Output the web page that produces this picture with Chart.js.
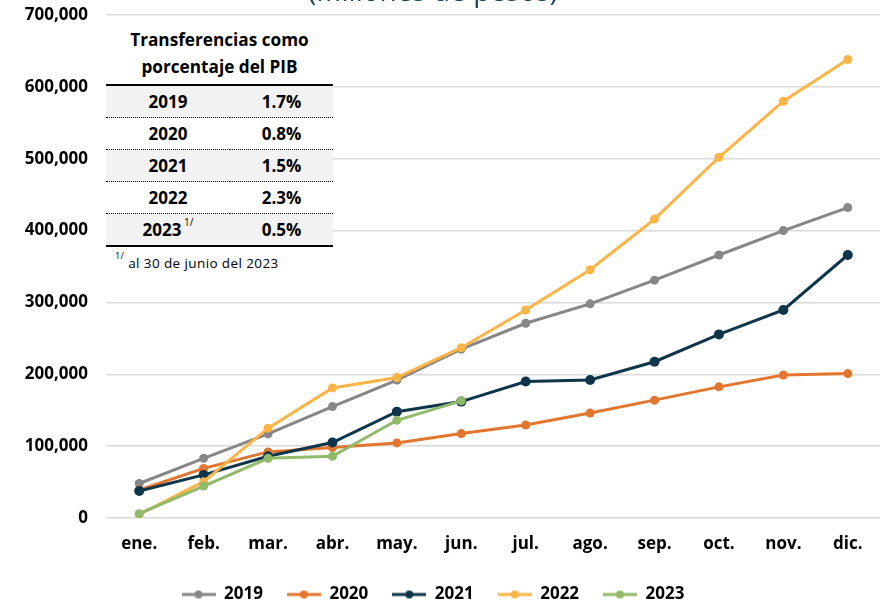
<!DOCTYPE html>
<html>
<head>
<meta charset="utf-8">
<script src="https://cdn.jsdelivr.net/npm/chart.js@4/dist/chart.umd.min.js"></script>
<style>
  html, body { margin: 0; padding: 0; background: #fff; }
  #wrap { position: relative; width: 885px; height: 604px; overflow: hidden; font-family: "Open Sans", sans-serif; }
  #subtitle { position: absolute; left: 0; width: 866px; top: -24px; text-align: center; font-size: 28px; line-height: 28px; color: #17465c; }
  #tbl { position: absolute; left: 106px; top: 22px; width: 227px; background: #fff; }
  #tbl .head { font-weight: bold; font-size: 17.2px; line-height: 27px; text-align: center; color: #000; padding-top: 4px; padding-bottom: 4px; }
  #tbl table { border-collapse: collapse; width: 227px; border-top: 2px solid #000; border-bottom: 2px solid #000; }
  #tbl td { height: 31px; padding: 0; font-weight: bold; font-size: 17px; text-align: center; color: #000; }
  #tbl tr { border-bottom: 1px dotted #000; }
  #tbl tr:last-child { border-bottom: none; }
  #tbl tr.g { background: #f2f2f2; }
  #tbl sup { font-size: 10px; font-weight: normal; position: relative; top: -3px; }
  #tbl .note { font-size: 13.5px; padding: 5px 0 0 9px; letter-spacing: 0.4px; color: #000; }
  #tbl .note sup { font-size: 9px; }
</style>
</head>
<body>
<div id="wrap">
  <canvas id="myChart" width="885" height="604"></canvas>
  <div id="subtitle">(Millones de pesos)</div>
  <div id="tbl"></div>
</div>
<script>
const months = ["ene.", "feb.", "mar.", "abr.", "may.", "jun.", "jul.", "ago.", "sep.", "oct.", "nov.", "dic."];
const s2019 = [48000, 83000, 117000, 155000, 192000, 235000, 271000, 298000, 331000, 366000, 400000, 432000];
const s2020 = [39000, 69000, 92000, 98000, 104500, 117500, 129500, 146000, 164000, 182500, 199000, 201000];
const s2021 = [37500, 60000, 86000, 105000, 148000, 162000, 190000, 192000, 217500, 255500, 289500, 366000];
const s2022 = [5000, 50500, 125000, 181000, 195500, 237000, 289500, 345500, 416000, 502000, 580000, 638000];
const s2023 = [6000, 44500, 83000, 86000, 136000, 163000];
const seriesNames = ["2019", "2020", "2021", "2022", "2023"];
const colors = ["#878787", "#e3762e", "#0e3549", "#fdb446", "#90b96a"];
const tableYears = ["2019", "2020", "2021", "2022", "2023"];
const tablePct = ["1.7%", "0.8%", "1.5%", "2.3%", "0.5%"];
const yTicks = [0, 100000, 200000, 300000, 400000, 500000, 600000, 700000];

// table overlay
let html = '<div class="head">Transferencias como<br>porcentaje del PIB</div><table>';
tableYears.forEach((y, i) => {
  const label = i === tableYears.length - 1 ? y + '<sup>&nbsp;1/</sup>' : y;
  html += '<tr' + (i % 2 === 0 ? ' class="g"' : '') + '><td style="width:124px">' + label + '</td><td>' + tablePct[i] + '</td></tr>';
});
html += '</table><div class="note"><sup>1/</sup> al 30 de junio del 2023</div>';
document.getElementById("tbl").innerHTML = html;

// legend marker: line with a dot
function marker(color) {
  const c = document.createElement("canvas");
  c.width = 34; c.height = 10;
  const g = c.getContext("2d");
  g.strokeStyle = color; g.lineWidth = 3;
  g.beginPath(); g.moveTo(0, 5); g.lineTo(34, 5); g.stroke();
  g.fillStyle = color;
  g.beginPath(); g.arc(17, 5, 4, 0, Math.PI * 2); g.fill();
  return c;
}

// nudge the legend a bit to the left, like the original
const legendShift = {
  id: "legendShift",
  afterLayout(chart) {
    chart.legend.left -= 9;
    chart.legend.right -= 9;
  },
};

Chart.defaults.font.family = "'Open Sans', sans-serif";
Chart.defaults.color = "#000";

const allData = [s2019, s2020, s2021, s2022, s2023];
const datasets = allData.map((d, i) => ({
  label: seriesNames[i],
  data: d,
  borderColor: colors[i],
  backgroundColor: colors[i],
  borderWidth: 3,
  pointRadius: i === 2 ? 5 : 4.5,
  pointBorderWidth: 0,
  tension: 0,
  order: allData.length - i,
}));

new Chart(document.getElementById("myChart"), {
  type: "line",
  data: { labels: months, datasets: datasets },
  plugins: [legendShift],
  options: {
    responsive: false,
    animation: false,
    layout: { padding: { top: 15, right: 1, left: 0, bottom: -9 } },
    plugins: {
      tooltip: { enabled: false },
      legend: {
        position: "bottom",
        labels: {
          usePointStyle: true,
          pointStyleWidth: 34,
          padding: 24,
          font: { size: 17, weight: "bold" },
          generateLabels: (chart) => chart.data.datasets.map((ds, i) => ({
            text: ds.label,
            pointStyle: marker(ds.borderColor),
            fillStyle: ds.borderColor,
            strokeStyle: ds.borderColor,
            lineWidth: 0,
            datasetIndex: i,
            fontColor: "#000",
          })),
        },
      },
    },
    scales: {
      x: {
        offset: true,
        grid: { display: false, drawTicks: false },
        border: { display: false },
        afterFit: (axis) => { axis.height = 44; },
        ticks: { padding: 16, font: { size: 17, weight: "bold" }, maxRotation: 0 },
      },
      y: {
        min: 0,
        max: 700000,
        afterBuildTicks: (axis) => { axis.ticks = yTicks.map((v) => ({ value: v })); },
        afterFit: (axis) => {
          axis.width = 107;
          axis.paddingTop = 0;
          axis.paddingBottom = 0;
        },
        grid: { color: "#d9d9d9", lineWidth: 1.5, drawTicks: false },
        border: { display: false },
        ticks: {
          padding: 19,
          font: { size: 17, weight: "bold" },
          callback: (v) => v.toLocaleString("en-US"),
        },
      },
    },
  },
});
</script>
</body>
</html>
